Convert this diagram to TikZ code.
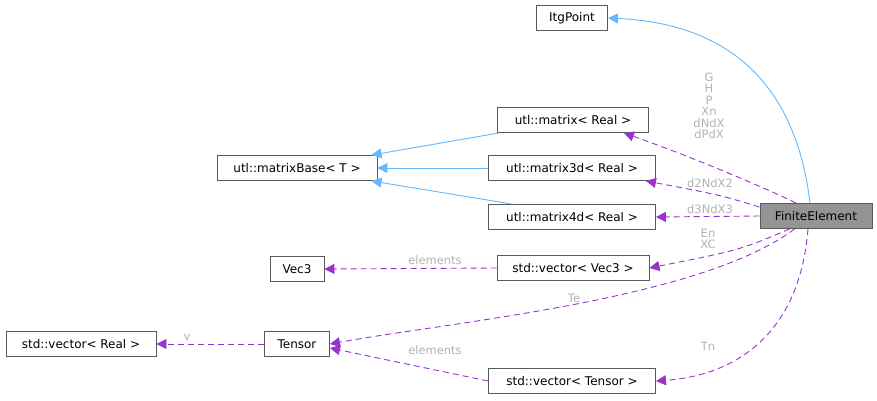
\documentclass[tikz,border=0pt]{standalone}
\usepackage{fontspec}
\setmainfont{DejaVu Sans}
\usetikzlibrary{arrows.meta}
\definecolor{inhc}{RGB}{99,184,255}
\definecolor{usec}{RGB}{154,50,205}
\begin{document}
\begin{tikzpicture}[x=1pt,y=-1pt,
  cls/.style={draw=black!65,line width=0.9pt,fill=white,minimum height=25pt,inner xsep=4pt,inner ysep=0pt,font=\fontsize{12}{13}\selectfont,text=black},
  inh/.style={draw=inhc,line width=0.9pt,-{Triangle[width=10pt,length=10pt,fill=inhc]}},
  use/.style={draw=usec,line width=0.9pt,dash pattern=on 6pt off 4pt,-{Triangle[width=10pt,length=10pt,fill=usec]}},
  lbl/.style={text=black!30,font=\fontsize{11.5}{11.5}\selectfont,inner sep=0pt,align=center}]
\useasboundingbox (0,0) rectangle (877,400);
\node[cls,minimum width=71pt] (itg) at (572,18) {ItgPoint};
\node[cls,minimum width=151pt] (mat) at (573,120) {utl::matrix< Real >};
\node[cls,minimum width=160pt] (base) at (297,168) {utl::matrixBase< T >};
\node[cls,minimum width=167pt] (m3) at (572,168) {utl::matrix3d< Real >};
\node[cls,minimum width=167pt] (m4) at (572,217) {utl::matrix4d< Real >};
\node[cls,minimum width=112pt,fill=black!42] (fe) at (816,216) {FiniteElement};
\node[cls,minimum width=54pt] (vec3) at (297,269) {Vec3};
\node[cls,minimum width=152pt] (vv3) at (573,268) {std::vector< Vec3 >};
\node[cls,minimum width=150pt] (vr) at (81,344) {std::vector< Real >};
\node[cls,minimum width=65pt] (ten) at (297,344) {Tensor};
\node[cls,minimum width=167pt] (vt) at (572,381) {std::vector< Tensor >};

\draw[inh] ([xshift=-6pt]fe.north) .. controls (800,120) and (760,25) .. (itg.east);
\draw[inh] ([xshift=2pt]mat.south west) -- ([xshift=-6pt]base.north east);
\draw[inh] (m3.west) -- (base.east);
\draw[inh] ([xshift=24pt]m4.north west) -- ([xshift=-6pt]base.south east);

\draw[use] ([xshift=-20pt]fe.north) .. controls (770,190) and (700,160) .. ([xshift=-25pt]mat.south east);
\draw[use] ([yshift=-4pt]fe.north west) .. controls (720,195) .. ([xshift=-10pt]m3.south east);
\draw[use] (fe.west) -- (m4.east);
\draw[use] ([xshift=30pt]fe.south west) .. controls (740,250) .. (vv3.east);
\draw[use] ([xshift=35pt]fe.south west) .. controls (700,300) and (450,322) .. (ten.east);
\draw[use] ([xshift=-8pt]fe.south) .. controls (800,330) and (740,375) .. (vt.east);
\draw[use] (vv3.west) -- (vec3.east);
\draw[use] (vt.west) -- ([yshift=-4pt]ten.east);
\draw[use] (ten.west) -- (vr.east);

\node[lbl] at (709,106) {G\\H\\P\\Xn\\dNdX\\dPdX};
\node[lbl] at (710,183) {d2NdX2};
\node[lbl] at (710,209) {d3NdX3};
\node[lbl] at (708,239) {En\\XC};
\node[lbl] at (574,298) {Te};
\node[lbl] at (708,346) {Tn};
\node[lbl] at (435,260) {elements};
\node[lbl] at (435,350) {elements};
\node[lbl] at (187,337) {v};
\end{tikzpicture}
\end{document}
